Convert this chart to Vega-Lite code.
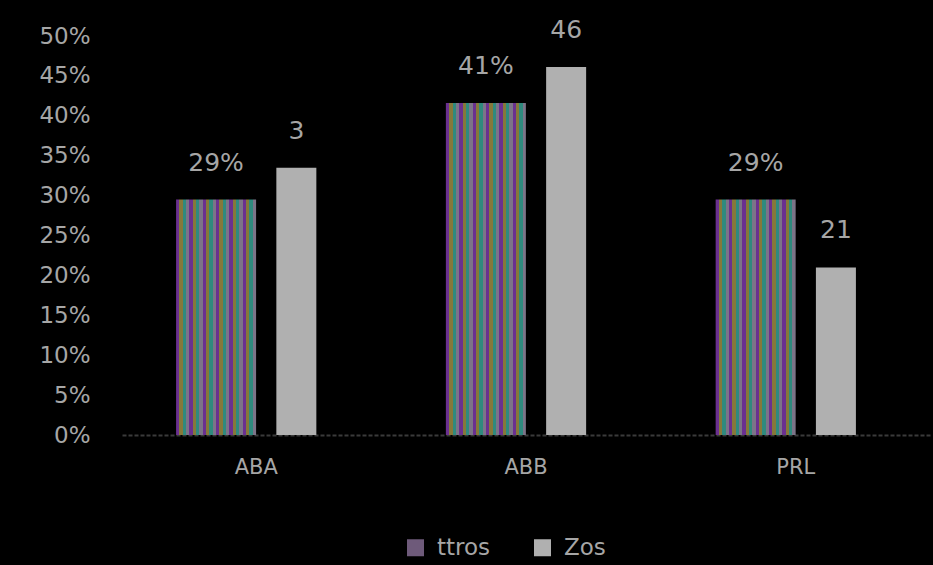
{
  "$schema": "https://vega.github.io/schema/vega-lite/v6.json",
  "width": 808,
  "height": 399,
  "autosize": {"type": "none"},
  "padding": {"left": 122, "top": 36, "right": 3, "bottom": 130},
  "background": "#000000",
  "config": {
    "view": {"stroke": null},
    "font": "DejaVu Sans",
    "axis": {"labelColor": "#a6a6a6", "grid": false, "ticks": false, "title": null}
  },
  "data": {
    "values": [
      {"cat": "ABA", "series": "ttros", "value": 0.295, "label": "29%"},
      {"cat": "ABB", "series": "ttros", "value": 0.416, "label": "41%"},
      {"cat": "PRL", "series": "ttros", "value": 0.295, "label": "29%"},
      {"cat": "ABA", "series": "Zos", "value": 0.335, "label": "3"},
      {"cat": "ABB", "series": "Zos", "value": 0.461, "label": "46"},
      {"cat": "PRL", "series": "Zos", "value": 0.21, "label": "21"}
    ]
  },
  "encoding": {
    "x": {
      "field": "cat",
      "type": "nominal",
      "sort": ["ABA", "ABB", "PRL"],
      "scale": {"paddingInner": 0.405, "paddingOuter": 0.2},
      "axis": {
        "labelAngle": 0,
        "labelFontSize": 21,
        "labelPadding": 21,
        "domain": true,
        "domainColor": "#3a3a3a",
        "domainWidth": 2,
        "domainDash": [4, 2]
      }
    },
    "xOffset": {
      "field": "series",
      "type": "nominal",
      "scale": {"domain": ["ttros", "Zos"], "paddingInner": 0, "paddingOuter": 0}
    },
    "y": {
      "field": "value",
      "type": "quantitative",
      "scale": {"domain": [0, 0.5], "nice": false},
      "axis": {
        "values": [0, 0.05, 0.1, 0.15, 0.2, 0.25, 0.3, 0.35, 0.4, 0.45, 0.5],
        "format": ".0%",
        "labelFontSize": 23,
        "labelPadding": 32,
        "domain": false
      }
    }
  },
  "layer": [
    {
      "transform": [{"filter": "datum.series === 'ttros'"}],
      "mark": {
        "type": "bar",
        "width": 80,
        "color": {
          "gradient": "linear",
          "x1": 0, "y1": 0, "x2": 1, "y2": 0,
          "stops": [
            {"offset": 0, "color": "#6a3090"}, {"offset": 0.0417, "color": "#6a3090"},
            {"offset": 0.0417, "color": "#86783a"}, {"offset": 0.0833, "color": "#86783a"},
            {"offset": 0.0833, "color": "#2f8a7e"}, {"offset": 0.125, "color": "#2f8a7e"},
            {"offset": 0.125, "color": "#7c7488"}, {"offset": 0.1667, "color": "#7c7488"},
            {"offset": 0.1667, "color": "#6a3090"}, {"offset": 0.2083, "color": "#6a3090"},
            {"offset": 0.2083, "color": "#86783a"}, {"offset": 0.25, "color": "#86783a"},
            {"offset": 0.25, "color": "#2f8a7e"}, {"offset": 0.2917, "color": "#2f8a7e"},
            {"offset": 0.2917, "color": "#7c7488"}, {"offset": 0.3333, "color": "#7c7488"},
            {"offset": 0.3333, "color": "#6a3090"}, {"offset": 0.375, "color": "#6a3090"},
            {"offset": 0.375, "color": "#86783a"}, {"offset": 0.4167, "color": "#86783a"},
            {"offset": 0.4167, "color": "#2f8a7e"}, {"offset": 0.4583, "color": "#2f8a7e"},
            {"offset": 0.4583, "color": "#7c7488"}, {"offset": 0.5, "color": "#7c7488"},
            {"offset": 0.5, "color": "#6a3090"}, {"offset": 0.5417, "color": "#6a3090"},
            {"offset": 0.5417, "color": "#86783a"}, {"offset": 0.5833, "color": "#86783a"},
            {"offset": 0.5833, "color": "#2f8a7e"}, {"offset": 0.625, "color": "#2f8a7e"},
            {"offset": 0.625, "color": "#7c7488"}, {"offset": 0.6667, "color": "#7c7488"},
            {"offset": 0.6667, "color": "#6a3090"}, {"offset": 0.7083, "color": "#6a3090"},
            {"offset": 0.7083, "color": "#86783a"}, {"offset": 0.75, "color": "#86783a"},
            {"offset": 0.75, "color": "#2f8a7e"}, {"offset": 0.7917, "color": "#2f8a7e"},
            {"offset": 0.7917, "color": "#7c7488"}, {"offset": 0.8333, "color": "#7c7488"},
            {"offset": 0.8333, "color": "#6a3090"}, {"offset": 0.875, "color": "#6a3090"},
            {"offset": 0.875, "color": "#86783a"}, {"offset": 0.9167, "color": "#86783a"},
            {"offset": 0.9167, "color": "#2f8a7e"}, {"offset": 0.9583, "color": "#2f8a7e"},
            {"offset": 0.9583, "color": "#7c7488"}, {"offset": 1, "color": "#7c7488"}
          ]
        }
      }
    },
    {
      "transform": [{"filter": "datum.series === 'Zos'"}],
      "mark": {"type": "bar", "width": 40},
      "encoding": {
        "color": {
          "field": "series",
          "type": "nominal",
          "scale": {"domain": ["ttros", "Zos"], "range": ["#6e5a7a", "#b0b0b0"]},
          "legend": {
            "title": null,
            "orient": "none",
            "direction": "horizontal",
            "legendX": 282,
            "legendY": 500,
            "symbolType": "square",
            "symbolSize": 289,
            "symbolStrokeWidth": 0,
            "labelFontSize": 23,
            "labelColor": "#a6a6a6",
            "labelOffset": 10,
            "columnPadding": 40,
            "encode": {
              "symbols": {
                "update": {
                  "fill": [
                    {
                      "test": "datum.value === 'ttros'",
                      "value": {
                        "gradient": "linear",
                        "x1": 0, "y1": 0, "x2": 1, "y2": 0,
                        "stops": [
                          {"offset": 0, "color": "#6a3090"}, {"offset": 0.2, "color": "#6a3090"},
                          {"offset": 0.2, "color": "#86783a"}, {"offset": 0.4, "color": "#86783a"},
                          {"offset": 0.4, "color": "#2f8a7e"}, {"offset": 0.6, "color": "#2f8a7e"},
                          {"offset": 0.6, "color": "#7c7488"}, {"offset": 0.8, "color": "#7c7488"},
                          {"offset": 0.8, "color": "#6a3090"}, {"offset": 1, "color": "#6a3090"}
                        ]
                      }
                    },
                    {"value": "#b0b0b0"}
                  ]
                }
              }
            }
          }
        }
      }
    },
    {
      "mark": {"type": "text", "baseline": "bottom", "dy": -24, "fontSize": 25, "color": "#a6a6a6"},
      "encoding": {"text": {"field": "label"}}
    }
  ]
}
